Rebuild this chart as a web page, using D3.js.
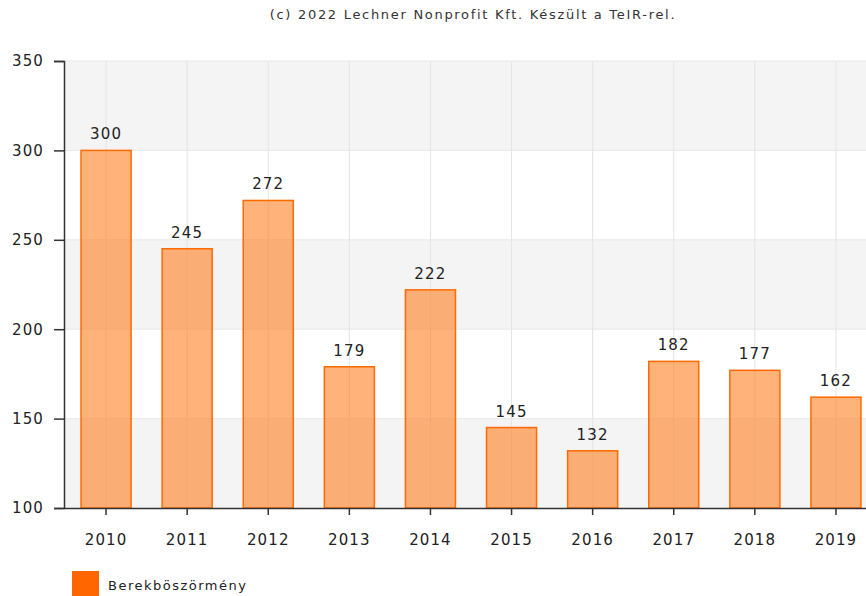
<!DOCTYPE html>
<html>
<head>
<meta charset="utf-8">
<script src="https://cdn.jsdelivr.net/npm/d3@7"></script>
<style>
  body { margin: 0; background: #fff; }
  svg { display: block; font-family: "DejaVu Sans", Verdana, sans-serif; }
</style>
</head>
<body>
<div id="chart"></div>
<script>
// data
const years = ["2010", "2011", "2012", "2013", "2014", "2015", "2016", "2017", "2018", "2019"];
const values = [300, 245, 272, 179, 222, 145, 132, 182, 177, 162];
const yTicks = [100, 150, 200, 250, 300, 350];
const seriesName = "Berekböszörmény";
const credit = "(c) 2022 Lechner Nonprofit Kft. Készült a TeIR-rel.";

const W = 866, H = 596;
const margin = { top: 61, right: -12, bottom: 88, left: 64 };
const width = W - margin.left - margin.right;
const height = H - margin.top - margin.bottom;

const svg = d3.select("#chart").append("svg")
    .attr("width", W)
    .attr("height", H);

svg.append("text")
    .attr("x", 473)
    .attr("y", 19)
    .attr("text-anchor", "middle")
    .style("font-size", "13px")
    .style("letter-spacing", "1.7px")
    .attr("fill", "#333")
    .text(credit);

const g = svg.append("g")
    .attr("transform", `translate(${margin.left},${margin.top})`);

const x = d3.scaleBand()
    .domain(years)
    .range([0, width])
    .paddingInner(0.383)
    .paddingOuter(0.21);

const y = d3.scaleLinear()
    .domain([100, 350])
    .range([height, 0]);

// alternating background bands
const bands = d3.pairs(yTicks);
g.selectAll(".band")
    .data(bands)
    .join("rect")
    .attr("x", 0)
    .attr("width", width)
    .attr("y", d => y(d[1]))
    .attr("height", d => y(d[0]) - y(d[1]))
    .attr("fill", (d, i) => i % 2 === 0 ? "#f4f4f4" : "#fff");

// horizontal grid lines
g.selectAll(".hgrid")
    .data(yTicks.slice(1))
    .join("line")
    .attr("x1", 0).attr("x2", width)
    .attr("y1", d => y(d)).attr("y2", d => y(d))
    .attr("stroke", "#e8e8e8");

// vertical grid lines at category centers
g.selectAll(".vgrid")
    .data(years)
    .join("line")
    .attr("x1", d => x(d) + x.bandwidth() / 2)
    .attr("x2", d => x(d) + x.bandwidth() / 2)
    .attr("y1", 0).attr("y2", height)
    .attr("stroke", "#e4e4e4");

// bars
g.selectAll(".bar")
    .data(values)
    .join("rect")
    .attr("x", (d, i) => x(years[i]))
    .attr("width", x.bandwidth())
    .attr("y", d => y(d))
    .attr("height", d => height - y(d))
    .attr("fill", "#ff7a1a")
    .attr("fill-opacity", 0.58)
    .attr("stroke", "#ff6a00")
    .attr("stroke-width", 1.5);

// value labels
g.selectAll(".val")
    .data(values)
    .join("text")
    .attr("x", (d, i) => x(years[i]) + x.bandwidth() / 2)
    .attr("y", d => y(d) - 11)
    .attr("text-anchor", "middle")
    .style("font-size", "15px")
    .style("letter-spacing", "1.2px")
    .attr("fill", "#222")
    .text(d => d);

// axes
const yAxis = g.append("g")
    .call(d3.axisLeft(y).tickValues(yTicks).tickSize(10).tickPadding(10));
const xAxis = g.append("g")
    .attr("transform", `translate(0,${height})`)
    .call(d3.axisBottom(x).tickSize(7).tickPadding(19).tickSizeOuter(0));

[yAxis, xAxis].forEach(ax => {
    ax.select(".domain").attr("stroke", "#333").attr("stroke-width", 1.5);
    ax.selectAll(".tick line").attr("stroke", "#333").attr("stroke-width", 1.5);
    ax.selectAll(".tick text").style("font-size", "15px").style("letter-spacing", "1.1px")
        .attr("fill", "#222")
        .style("font-family", "'DejaVu Sans', Verdana, sans-serif");
});

// legend
const legend = svg.append("g").attr("transform", "translate(72,571)");
legend.append("rect")
    .attr("width", 27)
    .attr("height", 25)
    .attr("fill", "#ff6600");
legend.append("text")
    .attr("x", 36)
    .attr("y", 14)
    .attr("dy", "0.35em")
    .style("font-size", "13px")
    .style("letter-spacing", "1.5px")
    .attr("fill", "#222")
    .text(seriesName);
</script>
</body>
</html>
